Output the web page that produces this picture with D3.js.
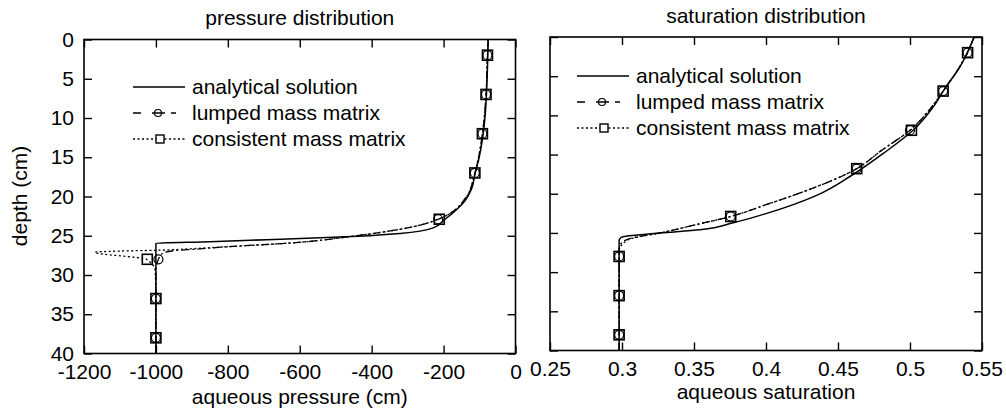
<!DOCTYPE html>
<html>
<head>
<meta charset="utf-8">
<title>pressure / saturation distribution</title>
<script src="https://cdn.jsdelivr.net/npm/d3@7"></script>
<style>
  body { margin: 0; background: #fff; }
  svg text { font-family: "Liberation Sans", Arial, sans-serif; font-size: 21px; fill: #000; }
</style>
</head>
<body>
<svg id="chart" width="1006" height="413"></svg>
<script>
// curves, as [x value, depth (cm)]
var pAnalytic = [[-76,0],[-79,5],[-85,10],[-93,13],[-101,15],[-112,17],[-122,19],[-140,20.5],[-160,21.5],
  [-196,22.9],[-229,24],[-321,24.7],[-507,25.2],[-692,25.5],[-850,25.75],[-1000,25.95],[-1000,40]];
var pLumped = [[-76,0],[-78,2],[-82,7],[-92,12],[-113,17],[-136,20],[-215,22.9],[-300,24],[-460,25.1],
  [-619,25.9],[-802,26.4],[-886,26.7],[-950,26.9],[-980,27.2],[-993,28],[-1000,29.5],[-1000,40]];
var pConsistent = [[-76,0],[-78,2],[-82,7],[-92,12],[-113,17],[-136,20],[-215,22.9],[-300,24],[-460,25.1],
  [-619,25.9],[-802,26.4],[-900,26.65],[-1000,26.85],[-1100,26.95],[-1170,27.1],[-1026,28],[-1002,29.5],[-1000,33],[-1000,40]];
var pLumpedMarks = [[-78,2],[-82,7],[-92,12],[-113,17],[-215,22.9],[-993,28],[-1000,33],[-1000,38]];
var pConsistentMarks = [[-78,2],[-82,7],[-92,12],[-113,17],[-212,22.9],[-1024,28],[-1000,33],[-1000,38]];

var sAnalytic = [[0.5445,0],[0.5347,3.8],[0.5243,6.55],[0.5162,8.9],[0.5023,11.87],[0.4815,14.85],[0.4583,17.8],
  [0.4352,20.2],[0.4005,22.5],[0.3773,23.7],[0.3542,24.6],[0.3264,25.0],[0.305,25.35],[0.2995,25.55],[0.298,26],[0.298,40]];
var sLumped = [[0.5445,0],[0.540,2],[0.532,4.5],[0.523,6.9],[0.513,9.4],[0.500,11.9],[0.480,14.5],[0.463,16.8],
  [0.4236,19.9],[0.400,21.4],[0.3755,22.9],[0.350,24.0],[0.3264,25.0],[0.308,25.6],[0.300,26.2],[0.298,27],[0.298,40]];
var sConsistent = [[0.5445,0],[0.540,2],[0.532,4.5],[0.523,6.9],[0.513,9.4],[0.500,11.9],[0.480,14.5],[0.463,16.8],
  [0.4236,19.9],[0.400,21.4],[0.3755,22.9],[0.350,24.0],[0.3264,25.0],[0.307,25.7],[0.3005,26.4],[0.298,27.3],[0.298,40]];
var sLumpedMarks = [[0.540,2],[0.523,6.9],[0.500,11.9],[0.463,16.8],[0.3755,22.9],[0.298,28],[0.298,33],[0.298,38]];
var sConsistentMarks = [[0.540,2],[0.523,6.9],[0.501,11.9],[0.463,16.8],[0.3755,22.9],[0.298,28],[0.298,33],[0.298,38]];

var depthTicks = [0, 5, 10, 15, 20, 25, 30, 35, 40];
var pressureTicks = [-1200, -1000, -800, -600, -400, -200, 0];
var satTicks = [0.25, 0.3, 0.35, 0.4, 0.45, 0.5, 0.55];
var legendLabels = ["analytical solution", "lumped mass matrix", "consistent mass matrix"];

var svg = d3.select("#chart");
var dashDot = "8,3,2,3";
var dotted = "2,2.5";

function drawPanel(o) {
  var x = d3.scaleLinear().domain(o.domain).range([o.x0, o.x1]);
  var y = d3.scaleLinear().domain([0, 40]).range([o.y0, o.y1]);
  var g = svg.append("g");

  g.append("clipPath").attr("id", o.id + "clip")
    .append("rect").attr("x", o.x0).attr("y", o.y0)
    .attr("width", o.x1 - o.x0).attr("height", o.y1 - o.y0);

  // axes, ticks pointing inward
  var fmt = function(d) { return String(d); };
  g.append("g").attr("transform", "translate(0," + o.y1 + ")")
    .call(d3.axisBottom(x).tickValues(o.ticks).tickSize(-8).tickPadding(11).tickFormat(fmt));
  g.append("g").attr("transform", "translate(0," + o.y0 + ")")
    .call(d3.axisTop(x).tickValues(o.ticks).tickSize(-8).tickFormat(""));
  g.append("g").attr("transform", "translate(" + o.x0 + ",0)")
    .call(d3.axisLeft(y).tickValues(depthTicks).tickSize(-8).tickPadding(10)
      .tickFormat(o.yLabels ? fmt : ""));
  g.append("g").attr("transform", "translate(" + o.x1 + ",0)")
    .call(d3.axisRight(y).tickValues(depthTicks).tickSize(-8).tickFormat(""));
  g.selectAll(".domain").remove();
  g.selectAll(".tick line").attr("stroke", "#000").attr("stroke-width", 1.4);
  g.selectAll(".tick text").attr("font-size", "21px").attr("fill", "#000")
    .attr("font-family", "Liberation Sans, Arial, sans-serif");

  g.append("rect").attr("x", o.x0).attr("y", o.y0)
    .attr("width", o.x1 - o.x0).attr("height", o.y1 - o.y0)
    .attr("fill", "none").attr("stroke", "#000").attr("stroke-width", 1.6);

  // depth increases along every series, so interpolate x as a function of depth
  var line = d3.line().x(function(d) { return x(d[0]); }).y(function(d) { return y(d[1]); })
    .curve(d3.curveMonotoneY);
  var plot = g.append("g").attr("clip-path", "url(#" + o.id + "clip)");
  plot.append("path").datum(o.analytic).attr("d", line)
    .attr("fill", "none").attr("stroke", "#000").attr("stroke-width", 1.5);
  plot.append("path").datum(o.lumped).attr("d", line)
    .attr("fill", "none").attr("stroke", "#000").attr("stroke-width", 1.3).attr("stroke-dasharray", dashDot);
  plot.append("path").datum(o.consistent).attr("d", line)
    .attr("fill", "none").attr("stroke", "#000").attr("stroke-width", 1.3).attr("stroke-dasharray", dotted);

  plot.selectAll("circle.m").data(o.lumpedMarks).enter().append("circle")
    .attr("cx", function(d) { return x(d[0]); }).attr("cy", function(d) { return y(d[1]); })
    .attr("r", 4.5).attr("fill", "none").attr("stroke", "#000").attr("stroke-width", 1.2);
  plot.selectAll("rect.m").data(o.consistentMarks).enter().append("rect")
    .attr("x", function(d) { return x(d[0]) - 5; }).attr("y", function(d) { return y(d[1]) - 5; })
    .attr("width", 10).attr("height", 10)
    .attr("fill", "none").attr("stroke", "#000").attr("stroke-width", 1.6);

  // titles
  g.append("text").attr("x", (o.x0 + o.x1) / 2).attr("y", o.titleY)
    .attr("text-anchor", "middle").text(o.title);
  g.append("text").attr("x", (o.x0 + o.x1) / 2).attr("y", o.xTitleY)
    .attr("text-anchor", "middle").text(o.xTitle);

  // legend
  var lx = o.legX, ly = o.legY, step = 26;
  var leg = g.append("g");
  leg.append("line").attr("x1", lx).attr("x2", lx + 52).attr("y1", ly).attr("y2", ly)
    .attr("stroke", "#000").attr("stroke-width", 1.5);
  leg.append("line").attr("x1", lx).attr("x2", lx + 44).attr("y1", ly + step).attr("y2", ly + step)
    .attr("stroke", "#000").attr("stroke-width", 1.3).attr("stroke-dasharray", "8,11,13,6,5,20");
  leg.append("circle").attr("cx", lx + 25).attr("cy", ly + step).attr("r", 3.5)
    .attr("fill", "none").attr("stroke", "#000").attr("stroke-width", 1.2);
  leg.append("line").attr("x1", lx).attr("x2", lx + 52).attr("y1", ly + 2 * step).attr("y2", ly + 2 * step)
    .attr("stroke", "#000").attr("stroke-width", 1.3).attr("stroke-dasharray", dotted);
  leg.append("rect").attr("x", lx + 23).attr("y", ly + 2 * step - 4).attr("width", 8).attr("height", 8)
    .attr("fill", "#fff").attr("stroke", "#000").attr("stroke-width", 1.4);
  leg.selectAll("text").data(legendLabels).enter().append("text")
    .attr("x", lx + 59).attr("y", function(d, i) { return ly + i * step + 7; })
    .text(function(d) { return d; });
}

drawPanel({ id: "p", x0: 84, x1: 515.5, y0: 39.5, y1: 353.5, domain: [-1200, 0], ticks: pressureTicks,
  yLabels: true, analytic: pAnalytic, lumped: pLumped, consistent: pConsistent,
  lumpedMarks: pLumpedMarks, consistentMarks: pConsistentMarks,
  title: "pressure distribution", titleY: 25, xTitle: "aqueous pressure (cm)", xTitleY: 404,
  legX: 133, legY: 87 });

drawPanel({ id: "s", x0: 550, x1: 982, y0: 37, y1: 350.5, domain: [0.25, 0.55], ticks: satTicks,
  yLabels: false, analytic: sAnalytic, lumped: sLumped, consistent: sConsistent,
  lumpedMarks: sLumpedMarks, consistentMarks: sConsistentMarks,
  title: "saturation distribution", titleY: 23, xTitle: "aqueous saturation", xTitleY: 399,
  legX: 577, legY: 76 });

svg.append("text").attr("transform", "translate(27,196) rotate(-90)")
  .attr("text-anchor", "middle").text("depth (cm)");
</script>
</body>
</html>
